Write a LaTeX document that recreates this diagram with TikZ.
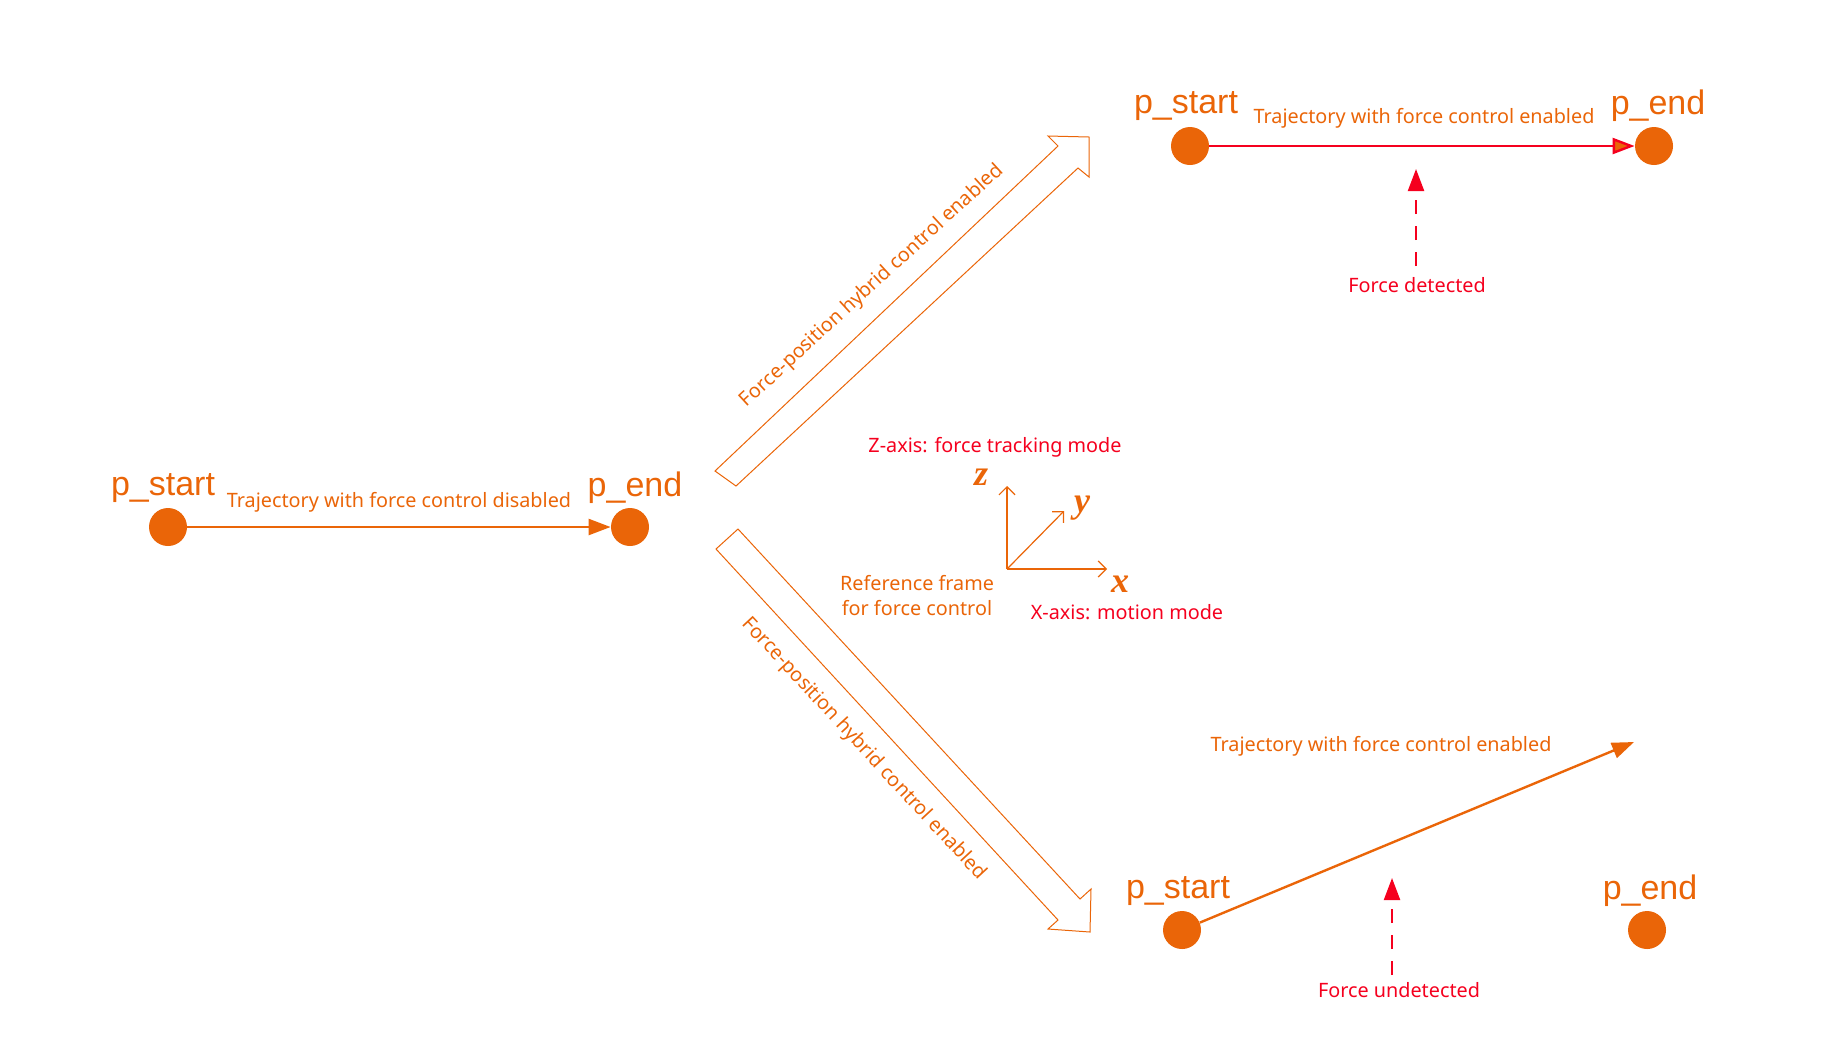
\documentclass[tikz,border=0pt]{standalone}
\usepackage{fontspec}
\setmainfont{Noto Sans}
\newfontfamily\pfont{Liberation Sans}
\newfontfamily\axfont{Liberation Serif}
\usetikzlibrary{arrows.meta}
\definecolor{org}{HTML}{EA6508}
\definecolor{rd}{HTML}{F5001E}
\begin{document}
\begin{tikzpicture}[x=0.5pt,y=-0.5pt,
  dot/.style={circle,fill=org,minimum size=19pt,inner sep=0pt},
  plab/.style={text=org,font=\pfont\fontsize{17}{17}\selectfont,inner sep=0pt},
  lab/.style={text=org,font=\fontsize{9.9}{12.5}\selectfont,inner sep=0pt},
  rlab/.style={text=rd,font=\fontsize{9.9}{12.5}\selectfont,inner sep=0pt},
  axl/.style={text=org,font=\axfont\bfseries\itshape\fontsize{18}{18}\selectfont,inner sep=0pt},
  traj/.style={org,line width=1.2pt,-{Triangle[length=11pt,width=8pt]}},
  force/.style={rd,line width=1.1pt,dash pattern=on 7pt off 6pt,-{Triangle[length=11pt,width=8pt]}},
  hollow/.style={org,line width=0.5pt},
  axis/.style={org,line width=0.6pt,-{Straight Barb[length=4pt,width=8pt]}}]
\useasboundingbox (0,0) rectangle (1839,1046);
% left
\node[dot] (ls) at (168,527) {};
\node[dot] (le) at (630,527) {};
\node[plab] (lsl) at (163,488) {p\_start};
\node[plab] (lel) at (635,488) {p\_end};
\node[lab] (lt) at (399,502) {Trajectory with force control disabled};
\draw[traj] (ls) -- (le);
% top right
\node[dot] (ts) at (1190,146) {};
\node[dot] (te) at (1654,146) {};
\node[plab] (tsl) at (1186,106) {p\_start};
\node[plab] (tel) at (1658,106) {p\_end};
\node[lab] (tt) at (1424,118) {Trajectory with force control enabled};
\draw[rd,line width=1.2pt,-{Triangle[length=11pt,width=8pt,fill=org]}] (ts) -- (te);
\coordinate (tf1) at (1416,266);
\coordinate (tf2) at (1416,169);
\draw[force] (tf1) -- (tf2);
\node[rlab] (tfd) at (1417,285) {Force detected};
% bottom right
\node[dot] (bs) at (1182,930) {};
\node[dot] (be) at (1647,930) {};
\node[plab] (bsl) at (1178,891) {p\_start};
\node[plab] (bel) at (1650,891) {p\_end};
\node[lab] (bt) at (1381,746) {Trajectory with force control enabled};
\coordinate (bend) at (1634,742);
\draw[traj] (bs) -- (bend);
\coordinate (bf1) at (1392,975);
\coordinate (bf2) at (1392,878);
\draw[force] (bf1) -- (bf2);
\node[rlab] (bfd) at (1399,990) {Force undetected};
% hollow arrows
\draw[hollow] (715,471) -- (1058,146) -- (1048,136) -- (1089,137) -- (1089,177) -- (1078,168) -- (736,486) -- cycle;
\node[lab,rotate=42.5] (ta) at (872,286) {Force-position hybrid control enabled};
\draw[hollow] (738,529) -- (1080,899) -- (1091,889) -- (1090,932) -- (1048,929) -- (1058,920) -- (716,549) -- cycle;
\node[lab,rotate=-47.2] (ba) at (864,749) {Force-position hybrid control enabled};
% axes
\coordinate (o) at (1007,569);
\coordinate (zt) at (1007,486);
\coordinate (yt) at (1064,511);
\coordinate (xt) at (1107,569);
\draw[axis] (o) -- (zt);
\draw[axis] (o) -- (yt);
\draw[axis] (o) -- (xt);
\node[axl] (zl) at (981,477) {z};
\node[axl] (yl) at (1082,508) {y};
\node[axl] (xl) at (1120,584) {x};
\node[rlab] (za) at (995,447) {Z-axis: force tracking mode};
\node[rlab] (xa) at (1127,612) {X-axis: motion mode};
\node[lab,align=center] (rf) at (917,596) {Reference frame\\for force control};
\end{tikzpicture}
\end{document}
